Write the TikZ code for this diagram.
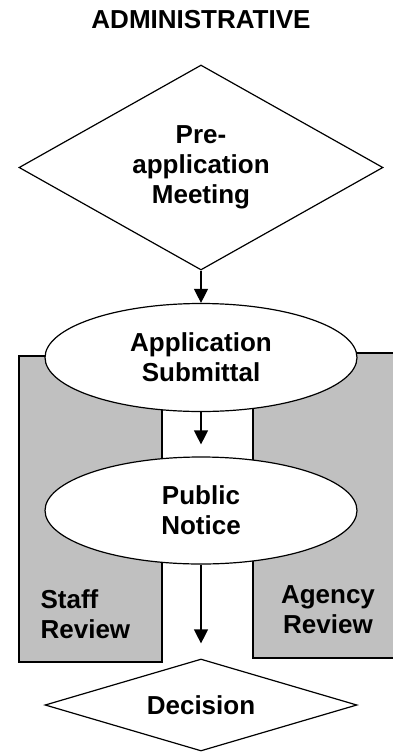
\documentclass[tikz,border=0pt]{standalone}
\usepackage{fontspec}
\setmainfont{Liberation Sans}
\usepackage{tikz}
\usetikzlibrary{shapes.geometric,arrows.meta}
\definecolor{reviewgray}{RGB}{192,192,192}

\begin{document}
\begin{tikzpicture}[x=1pt, y=-1pt, line width=1.2pt,
	every node/.style={font=\fontsize{26}{30}\selectfont\bfseries, inner sep=0pt},
	choice/.style={diamond, draw, fill=white, align=center},
	stage/.style={ellipse, draw, fill=white, align=center, minimum width=312pt, minimum height=108pt},
	review/.style={rectangle, draw, fill=reviewgray},
	flow/.style={-{Triangle[width=14pt,length=14pt]}}]
	\useasboundingbox (0,0) rectangle (393,753);
	\clip (0,0) rectangle (393,753);
	\node (title) at (201,20) {ADMINISTRATIVE};
	\node (staff) at (90.5,509) [review, minimum width=143pt, minimum height=306pt] {};
		\node (stafftext) at (40,614) [anchor=west, align=left] {Staff\\Review};
	\node (agency) at (327,505.5) [review, minimum width=148pt, minimum height=305pt] {};
		\node (agencytext) at (328,610) [align=center] {Agency\\Review};
	\node (meeting) at (201,167.5) [choice, aspect=1.78, minimum width=364pt, minimum height=205pt] {Pre-\\application\\Meeting};
		\node (submittal) at (201,357.5) [stage] {Application\\Submittal};
			\node (notice) at (201,510.5) [stage, minimum height=107pt] {Public\\Notice};
				\node (decision) at (201,705) [choice, aspect=3.3, minimum width=312pt, minimum height=92pt] {Decision};
	\draw[flow] (meeting) to (submittal);
	\draw[flow, shorten >=12pt] (submittal) to (notice);
	\draw[flow, shorten >=15pt] (notice) to (decision);
\end{tikzpicture}
\end{document}
